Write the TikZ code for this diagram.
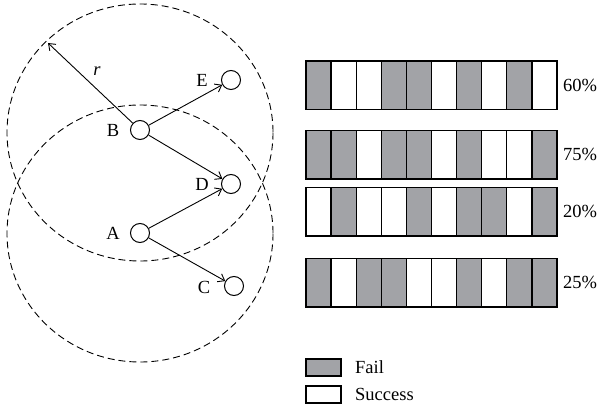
\documentclass[tikz,border=0pt]{standalone}
\usepackage{fontspec}
\setmainfont{Liberation Serif}
\usetikzlibrary{arrows.meta}
\definecolor{failgray}{RGB}{162,163,167}
\colorlet{G}{failgray}
\colorlet{W}{white}
\begin{document}
\begin{tikzpicture}[x=1pt,y=-1pt,
  dot/.style={circle,draw,line width=1pt,minimum size=19pt,inner sep=0pt},
  lbl/.style={font=\fontsize{18.5}{21}\selectfont, inner sep=0pt},
  conn/.style={-{Straight Barb[length=6pt,width=9pt]},line width=0.9pt},
  rangecirc/.style={dash pattern=on 7pt off 4pt, line width=0.9pt},
  cell/.style={draw, line width=1.3pt},
]
\useasboundingbox (0,0) rectangle (602,411);
% range circles
\draw[rangecirc] (140,132.5) ellipse [x radius=133, y radius=128.5];
\draw[rangecirc] (140,233.5) ellipse [x radius=133, y radius=128.5];
% nodes
\node[dot] (B) at (140,130) {};
\node[dot] (E) at (231,80) {};
\node[dot] (D) at (231,184) {};
\node[dot] (A) at (140,233) {};
\node[dot] (C) at (234,286) {};
\node[lbl] (lB) at (113,130) {B};
\node[lbl] (lE) at (202,80) {E};
\node[lbl] (lD) at (202,184) {D};
\node[lbl] (lA) at (113,233) {A};
\node[lbl] (lC) at (204,287) {C};
\coordinate (rtip) at (48,43);
\node[lbl,font=\fontsize{18.5}{21}\selectfont\itshape] (lr) at (97,71) {r};
% connectors
\draw[conn] (B) -- (rtip);
\draw[conn] (B) -- (E);
\draw[conn] (B) -- (D);
\draw[conn] (A) -- (D);
\draw[conn] (A) -- (C);
% bars
\foreach \ytop/\pat/\pc [count=\i] in {
  61/{G,W,W,G,G,W,G,W,G,W}/60\%,
  130.5/{G,G,W,G,G,W,G,W,W,G}/75\%,
  187.5/{W,G,W,W,G,W,G,G,W,G}/20\%,
  258.5/{G,W,G,G,W,W,G,W,G,G}/25\%}{
  \foreach \c [count=\j from 0] in \pat {
    \draw[cell, fill=\c] ({306+25.1*\j},\ytop) rectangle ++(25.1,48.5);
  }
  \node[lbl] (p\i) at (580,{\ytop+24}) {\pc};
}
% legend
\draw[cell, line width=1.1pt, fill=G] (306,359) rectangle (341,376);
\draw[cell, line width=1.1pt, fill=W] (306,386) rectangle (341,403);
\node[lbl, anchor=west] (lfail) at (355,367) {Fail};
\node[lbl, anchor=west] (lsucc) at (355,394) {Success};
\end{tikzpicture}
\end{document}
